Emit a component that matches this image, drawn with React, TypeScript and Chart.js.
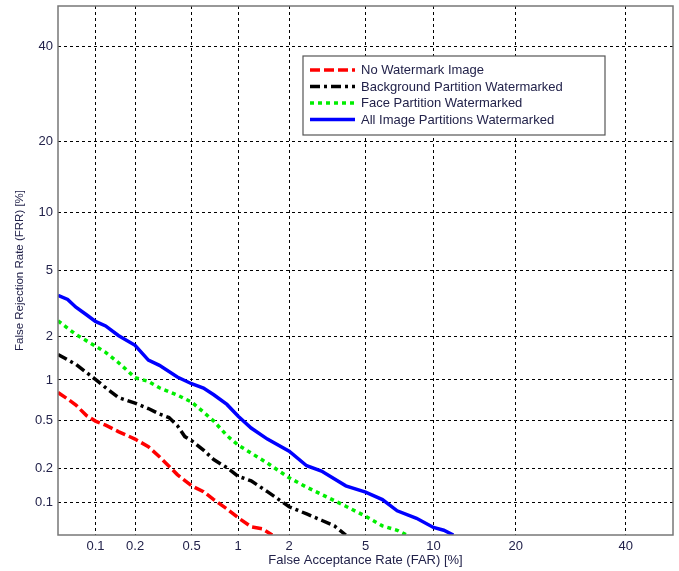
import { useEffect, useRef } from 'react';
import { Chart, LineController, LineElement, PointElement, Scale } from 'chart.js';

// ---- data (percent values) ----
const TICK_VALUES = [0.1, 0.2, 0.5, 1, 2, 5, 10, 20, 40];
const AXIS_MIN = 0.05;
const AXIS_MAX = 50;

const seriesNames = [
  'No Watermark Image',
  'Background Partition Watermarked',
  'Face Partition Watermarked',
  'All Image Partitions Watermarked',
];

const noWmFAR = [0.05, 0.06, 0.07, 0.085, 0.1, 0.12, 0.15, 0.2, 0.25, 0.3, 0.4, 0.5, 0.6, 0.7, 0.85, 1, 1.2, 1.4, 1.6];
const noWmFRR = [0.81, 0.725, 0.653, 0.542, 0.491, 0.457, 0.406, 0.353, 0.306, 0.253, 0.178, 0.142, 0.126, 0.107, 0.088, 0.0728, 0.0599, 0.0573, 0.05];

const bgFAR = [0.05, 0.07, 0.1, 0.12, 0.15, 0.2, 0.25, 0.3, 0.35, 0.4, 0.45, 0.5, 0.6, 0.7, 0.85, 1, 1.2, 1.5, 2, 2.5, 3, 3.5, 4];
const bgFRR = [1.51, 1.29, 1.01, 0.88, 0.744, 0.676, 0.614, 0.557, 0.523, 0.453, 0.37, 0.343, 0.287, 0.239, 0.204, 0.172, 0.157, 0.126, 0.092, 0.079, 0.069, 0.0611, 0.05];

const faceFAR = [0.05, 0.07, 0.1, 0.12, 0.15, 0.2, 0.25, 0.3, 0.4, 0.5, 0.6, 0.7, 0.85, 1, 1.2, 1.5, 2, 2.5, 3, 4, 5, 6, 7, 7.7];
const faceFRR = [2.51, 2.05, 1.72, 1.56, 1.33, 1.04, 0.976, 0.878, 0.776, 0.688, 0.577, 0.491, 0.377, 0.315, 0.271, 0.223, 0.167, 0.138, 0.119, 0.093, 0.0752, 0.0611, 0.0555, 0.05];

const allFAR = [0.05, 0.06, 0.07, 0.085, 0.1, 0.12, 0.15, 0.2, 0.25, 0.3, 0.4, 0.5, 0.6, 0.7, 0.85, 1, 1.2, 1.5, 2, 2.5, 3, 4, 5, 6, 7, 8.5, 10, 11, 12];
const allFRR = [3.6, 3.4, 3.05, 2.74, 2.49, 2.33, 2.02, 1.74, 1.38, 1.27, 1.05, 0.94, 0.875, 0.78, 0.66, 0.535, 0.433, 0.353, 0.281, 0.212, 0.191, 0.142, 0.125, 0.107, 0.0845, 0.072, 0.059, 0.0555, 0.05];

// ---- normal deviate (probit) ----
function probit(p: number): number {
  const a = [-3.969683028665376e1, 2.209460984245205e2, -2.759285104469687e2, 1.38357751867269e2, -3.066479806614716e1, 2.506628277459239];
  const b = [-5.447609879822406e1, 1.615858368580409e2, -1.556989798598866e2, 6.680131188771972e1, -1.328068155288572e1];
  const c = [-7.784894002430293e-3, -3.223964580411365e-1, -2.400758277161838, -2.549732539343734, 4.374664141464968, 2.938163982698783];
  const d = [7.784695709041462e-3, 3.224671290700398e-1, 2.445134137142996, 3.754408661907416];
  const pl = 0.02425;
  let q: number, r: number;
  if (p < pl) {
    q = Math.sqrt(-2 * Math.log(p));
    return (((((c[0] * q + c[1]) * q + c[2]) * q + c[3]) * q + c[4]) * q + c[5]) / ((((d[0] * q + d[1]) * q + d[2]) * q + d[3]) * q + 1);
  }
  if (p <= 1 - pl) {
    q = p - 0.5;
    r = q * q;
    return ((((((a[0] * r + a[1]) * r + a[2]) * r + a[3]) * r + a[4]) * r + a[5]) * q) / (((((b[0] * r + b[1]) * r + b[2]) * r + b[3]) * r + b[4]) * r + 1);
  }
  q = Math.sqrt(-2 * Math.log(1 - p));
  return -(((((c[0] * q + c[1]) * q + c[2]) * q + c[3]) * q + c[4]) * q + c[5]) / ((((d[0] * q + d[1]) * q + d[2]) * q + d[3]) * q + 1);
}
function normCdf(z: number): number {
  const t = 1 / (1 + 0.3275911 * Math.abs(z) / Math.SQRT2);
  const y = 1 - (((((1.061405429 * t - 1.453152027) * t) + 1.421413741) * t - 0.284496736) * t + 0.254829592) * t * Math.exp(-(z * z) / 2);
  return z >= 0 ? 0.5 * (1 + y) : 0.5 * (1 - y);
}

class ProbitScale extends Scale {
  static id = 'probit';
  static defaults = {};
  _zs = 0;
  _zr = 1;
  determineDataLimits() {
    const o: any = this.options;
    this.min = o.min;
    this.max = o.max;
  }
  buildTicks() {
    return TICK_VALUES.map((v) => ({ value: v }));
  }
  getLabelForValue(v: number) {
    return String(v);
  }
  configure() {
    super.configure();
    this._zs = probit(this.min / 100);
    this._zr = probit(this.max / 100) - this._zs;
  }
  getPixelForValue(v: number) {
    return this.getPixelForDecimal((probit(v / 100) - this._zs) / this._zr);
  }
  getValueForPixel(px: number) {
    return 100 * normCdf(this._zs + this.getDecimalForPixel(px) * this._zr);
  }
}

Chart.register(LineController, LineElement, PointElement, ProbitScale as any);

const FONT = 'Liberation Sans, Arial, sans-serif';
const TEXT_COLOR = '#22224a';

const framePlugin = {
  id: 'frame',
  afterDatasetsDraw(chart: any) {
    const { ctx, chartArea: a } = chart;
    ctx.save();
    ctx.strokeStyle = '#777777';
    ctx.lineWidth = 1.5;
    ctx.setLineDash([]);
    ctx.strokeRect(a.left, a.top, a.right - a.left, a.bottom - a.top);
    ctx.restore();
  },
};

const legendPlugin = {
  id: 'boxLegend',
  afterDraw(chart: any) {
    const { ctx } = chart;
    const x0 = 303, y0 = 56, w = 302, h = 79;
    ctx.save();
    ctx.fillStyle = '#ffffff';
    ctx.fillRect(x0, y0, w, h);
    ctx.strokeStyle = '#555555';
    ctx.lineWidth = 1.2;
    ctx.setLineDash([]);
    ctx.strokeRect(x0, y0, w, h);
    ctx.font = `13px ${FONT}`;
    ctx.textBaseline = 'middle';
    ctx.textAlign = 'left';
    chart.data.datasets.forEach((ds: any, i: number) => {
      const y = y0 + 14 + i * 16.5;
      ctx.beginPath();
      ctx.strokeStyle = ds.borderColor;
      ctx.lineWidth = ds.borderWidth;
      ctx.setLineDash(ds.borderDash || []);
      ctx.lineCap = 'butt';
      ctx.moveTo(310, y);
      ctx.lineTo(355, y);
      ctx.stroke();
      ctx.setLineDash([]);
      ctx.fillStyle = TEXT_COLOR;
      ctx.fillText(ds.label, 361, y + 0.5);
    });
    ctx.restore();
  },
};

function toPoints(xs: number[], ys: number[]) {
  return xs.map((x, i) => ({ x, y: ys[i] }));
}

export default function App() {
  const ref = useRef<HTMLCanvasElement | null>(null);
  useEffect(() => {
    if (!ref.current) return;
    const axisCommon = (title: string, titleSize: number, pad: any) => ({
      type: 'probit',
      min: AXIS_MIN,
      max: AXIS_MAX,
      grid: { color: '#000000', lineWidth: 1, drawTicks: false, tickLength: 0 },
      border: { display: false, dash: [3, 3] },
      ticks: { color: TEXT_COLOR, font: { family: FONT, size: 13 }, maxRotation: 0, autoSkip: false },
      title: { display: true, text: title, color: TEXT_COLOR, font: { family: FONT, size: titleSize }, padding: pad },
    });
    const xAxis: any = axisCommon('False Acceptance Rate (FAR) [%]', 13, { top: 0, bottom: 3 });
    xAxis.position = 'bottom';
    xAxis.ticks.padding = 4;
    xAxis.afterFit = (s: any) => { s.height = 36; s.paddingLeft = 0; s.paddingRight = 0; };
    const yAxis: any = axisCommon('False Rejection Rate (FRR) [%]', 11.5, { top: 13, bottom: 0 });
    yAxis.position = 'left';
    yAxis.ticks.padding = 5;
    yAxis.afterFit = (s: any) => { s.width = 58; s.paddingTop = 0; s.paddingBottom = 0; };

    const mk = (label: string, xs: number[], ys: number[], color: string, dash: number[]) => ({
      label,
      data: toPoints(xs, ys),
      borderColor: color,
      backgroundColor: color,
      borderWidth: 3.5,
      borderDash: dash,
      borderCapStyle: 'butt',
      pointRadius: 0,
      tension: 0,
      fill: false,
    });

    const chart = new Chart(ref.current, {
      type: 'line',
      data: {
        datasets: [
          mk(seriesNames[0], noWmFAR, noWmFRR, '#ff0000', [10, 4]),
          mk(seriesNames[1], bgFAR, bgFRR, '#000000', [10, 4, 3, 4]),
          mk(seriesNames[2], faceFAR, faceFRR, '#00ee00', [4, 4]),
          mk(seriesNames[3], allFAR, allFRR, '#0000ff', []),
        ],
      } as any,
      options: {
        animation: false,
        responsive: false,
        events: [],
        layout: { padding: { top: 6, right: 6, left: 0, bottom: 0 } },
        scales: { x: xAxis, y: yAxis },
        plugins: { legend: { display: false }, tooltip: { enabled: false } },
      } as any,
      plugins: [framePlugin, legendPlugin],
    });
    return () => chart.destroy();
  }, []);
  return (
    <canvas
      ref={ref}
      width={679}
      height={571}
      style={{ position: 'absolute', left: 0, top: 0, width: 679, height: 571, background: '#ffffff' }}
    />
  );
}
